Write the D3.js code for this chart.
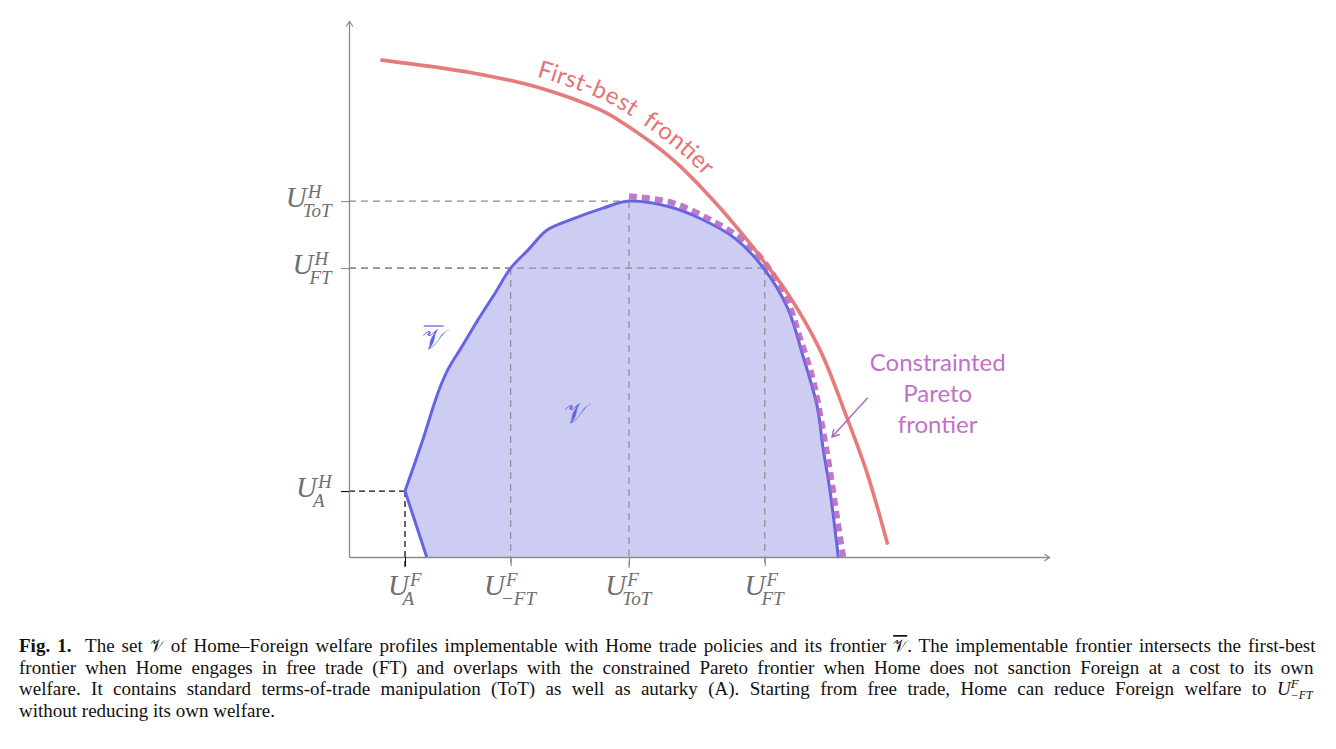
<!DOCTYPE html>
<html>
<head>
<meta charset="utf-8">
<script src="https://cdn.jsdelivr.net/npm/d3@7"></script>
<style>
  body { margin: 0; background: #fff; }
  svg { display: block; }
</style>
</head>
<body>
<svg id="chart" width="1336" height="749"></svg>
<script>
// Foreign welfare on x, Home welfare on y (arbitrary units, 0..10)
var xTickNames = ["A", "\u2212FT", "ToT", "FT"];
var xTickValues = [0.80, 2.31, 4.00, 5.94];
var yTickNames = ["ToT", "FT", "A"];
var yTickValues = [6.64, 5.39, 1.23];
// [x tick name, y tick name] : dashed guide from both axes to the point
var guidePairs = [["ToT", "ToT"], ["FT", "FT"], ["\u2212FT", "FT"], ["A", "A"]];

var firstBest = [[0.47, 9.27], [1.77, 9.03], [2.73, 8.75], [3.59, 8.34], [3.91, 8.10],
  [4.63, 7.41], [5.20, 6.66], [5.69, 5.91], [5.91, 5.54], [6.26, 4.93], [6.73, 3.86],
  [7.11, 2.61], [7.40, 1.57], [7.69, 0.26]];

// frontier of the implementable set, from the x axis through autarky and round
var implementable = [[1.11, 0], [0.80, 1.23], [1.04, 2.13], [1.27, 3.06], [1.41, 3.49],
  [1.61, 3.92], [1.84, 4.42], [2.09, 4.93], [2.31, 5.39], [2.56, 5.73], [2.83, 6.10],
  [3.16, 6.29], [3.63, 6.51], [4.00, 6.64], [4.59, 6.53], [5.01, 6.32], [5.51, 5.95],
  [5.91, 5.41], [6.26, 4.66], [6.49, 3.73], [6.69, 2.80], [6.77, 2.05], [6.87, 1.25],
  [6.99, 0]];

var constrained = [[4.00, 6.73], [4.59, 6.62], [5.09, 6.34], [5.59, 5.95], [5.91, 5.54],
  [6.26, 4.79], [6.44, 4.10], [6.63, 3.30], [6.77, 2.37], [6.87, 1.62], [6.97, 0.75],
  [7.06, 0]];

var captionLines = [
  [["b", "Fig. 1."], ["", "\u00a0 The set "], ["v", "\ud835\udcb1"],
   ["", " of Home\u2013Foreign welfare profiles implementable with Home trade policies and its frontier "],
   ["vbar", "\ud835\udcb1"], ["", ". The implementable frontier intersects the first-best"]],
  [["", "frontier when Home engages in free trade (FT) and overlaps with the constrained Pareto frontier when Home does not sanction Foreign at a cost to its own"]],
  [["", "welfare. It contains standard terms-of-trade manipulation (ToT) as well as autarky (A). Starting from free trade, Home can reduce Foreign welfare to "],
   ["U", "U"], ["sup", "F"], ["sub", "\u2212FT"]],
  [["", "without reducing its own welfare."]]
];

var svg = d3.select("#chart");
var x = d3.scaleLinear().domain([0, 10]).range([349, 1049]);
var y = d3.scaleLinear().domain([0, 10]).range([557, 21]);

var red = "#e57474", blue = "#6565e2", fill = "#cdcdf3", purple = "#b262c4",
  grey = "#8a8a8a", labelGrey = "#6f6f6f";
var serif = "'Liberation Serif', 'DejaVu Serif', serif";
var sans = "Lato, 'Open Sans', sans-serif";

var defs = svg.append("defs");
defs.append("marker")
  .attr("id", "axisArrow").attr("viewBox", "-6 -5 8 10")
  .attr("markerWidth", 8).attr("markerHeight", 10).attr("markerUnits", "userSpaceOnUse")
  .attr("orient", "auto")
  .append("path").attr("d", "M-5,-3.5 L0,0 L-5,3.5")
  .attr("fill", "none").attr("stroke", grey).attr("stroke-width", 1.2);
defs.append("marker")
  .attr("id", "noteArrow").attr("viewBox", "-8 -5 10 10")
  .attr("markerWidth", 10).attr("markerHeight", 10).attr("markerUnits", "userSpaceOnUse")
  .attr("orient", "auto")
  .append("path").attr("d", "M-7,-4 L0,0 L-7,4")
  .attr("fill", "none").attr("stroke", purple).attr("stroke-width", 1.4);

var line = d3.line().x(function(d) { return x(d[0]); }).y(function(d) { return y(d[1]); })
  .curve(d3.curveCatmullRom.alpha(0.5));

// implementable set: straight piece below autarky, smooth frontier above
var p0 = implementable[0];
var vPath = "M" + x(p0[0]) + "," + y(p0[1]) + "L" + line(implementable.slice(1)).slice(1);

svg.append("path").attr("d", vPath + "Z").attr("fill", fill);

// guides
var xByName = {}, yByName = {};
xTickNames.forEach(function(n, i) { xByName[n] = xTickValues[i]; });
yTickNames.forEach(function(n, i) { yByName[n] = yTickValues[i]; });

var guides = svg.append("g");
guidePairs.forEach(function(p) {
  var gx = xByName[p[0]], gy = yByName[p[1]];
  var black = p[0] == "A";
  var st = { stroke: black ? "#111" : grey, w: black ? 1.3 : 1.1, dash: black ? "6,4" : "7,5" };
  guides.append("line")
    .attr("x1", x(0)).attr("x2", x(gx)).attr("y1", y(gy)).attr("y2", y(gy))
    .attr("stroke", st.stroke).attr("stroke-width", st.w).attr("stroke-dasharray", st.dash);
  guides.append("line")
    .attr("x1", x(gx)).attr("x2", x(gx)).attr("y1", y(gy)).attr("y2", y(0) + 11)
    .attr("stroke", st.stroke).attr("stroke-width", st.w).attr("stroke-dasharray", st.dash);
});

// axes
var xAxis = svg.append("g").attr("transform", "translate(0," + y(0) + ")")
  .call(d3.axisBottom(x).tickValues(xTickValues).tickSize(9).tickSizeOuter(0).tickFormat(""));
var yAxis = svg.append("g").attr("transform", "translate(" + x(0) + ",0)")
  .call(d3.axisLeft(y).tickValues(yTickValues).tickSize(8).tickSizeOuter(0).tickFormat(""));
[xAxis, yAxis].forEach(function(a) {
  a.select(".domain").attr("stroke", grey).attr("stroke-width", 1.3).attr("marker-end", "url(#axisArrow)");
  a.selectAll(".tick line").attr("stroke", grey).attr("stroke-width", 1.1);
});
// autarky ticks are black like their guides
xAxis.selectAll(".tick line").filter(function(d) { return d == xByName["A"]; }).attr("stroke", "#111");
yAxis.selectAll(".tick line").filter(function(d) { return d == yByName["A"]; }).attr("stroke", "#111");

// curves
svg.append("path").attr("d", vPath).attr("fill", "none")
  .attr("stroke", blue).attr("stroke-width", 3).attr("stroke-linejoin", "round");
svg.append("path").attr("d", line(constrained)).attr("fill", "none")
  .attr("stroke", purple).attr("stroke-width", 6).attr("stroke-opacity", 0.85)
  .attr("stroke-dasharray", "8,5");
svg.append("path").attr("id", "firstBest").attr("d", line(firstBest)).attr("fill", "none")
  .attr("stroke", red).attr("stroke-width", 3.6).attr("stroke-linecap", "round")
  .attr("stroke-opacity", 0.95);

svg.append("text").attr("font-family", sans).attr("font-size", 24).attr("fill", red)
  .append("textPath").attr("href", "#firstBest").attr("startOffset", 154)
  .append("tspan").attr("dy", -10).style("white-space", "pre")
  .text("First-best\u00a0 frontier");

// math tick labels: U with stacked super/subscript, one text element each
function mathLabel(g, sup, sub, big, small) {
  var t = g.append("text").attr("font-family", serif).attr("font-style", "italic")
    .attr("fill", labelGrey);
  t.append("tspan").attr("font-size", big).text("U");
  var s1 = t.append("tspan").attr("font-size", small).attr("dx", 1).attr("dy", -9).text(sup);
  var w1 = s1.node().getComputedTextLength();
  t.append("tspan").attr("font-size", small).attr("dx", -(w1 + 5)).attr("dy", 19).text(sub);
  return t.node().getBBox();
}

xTickNames.forEach(function(n, i) {
  var g = svg.append("g");
  var bb = mathLabel(g, "F", n, 29, 19);
  g.attr("transform", "translate(" + (x(xTickValues[i]) - bb.x - bb.width / 2) + "," + (y(0) + 38) + ")");
});
yTickNames.forEach(function(n, i) {
  var g = svg.append("g");
  var bb = mathLabel(g, "H", n, 29, 19);
  g.attr("transform", "translate(" + (333 - bb.x - bb.width) + "," + (y(yTickValues[i]) + 6) + ")");
});

// set labels
svg.append("text").attr("x", x(1.21)).attr("y", y(3.88)).attr("text-anchor", "middle")
  .attr("font-family", "'DejaVu Serif', serif").attr("font-size", 28).attr("fill", blue)
  .text("\ud835\udcb1");
svg.append("line").attr("x1", x(1.21) - 10).attr("x2", x(1.21) + 10)
  .attr("y1", y(3.88) - 23).attr("y2", y(3.88) - 23)
  .attr("stroke", blue).attr("stroke-width", 1.3);
svg.append("text").attr("x", x(3.23)).attr("y", y(2.50)).attr("text-anchor", "middle")
  .attr("font-family", "'DejaVu Serif', serif").attr("font-size", 28).attr("fill", blue)
  .text("\ud835\udcb1");

var note = svg.append("text").attr("font-family", sans).attr("font-size", 24)
  .attr("fill", "#c271c9").attr("text-anchor", "middle");
["Constrainted", "Pareto", "frontier"].forEach(function(t, i) {
  note.append("tspan").attr("x", x(8.41)).attr("y", y(3.47) + i * 31).text(t);
});
svg.append("line").attr("x1", x(7.41)).attr("y1", y(2.97)).attr("x2", x(6.90)).attr("y2", y(2.24))
  .attr("stroke", purple).attr("stroke-width", 1.4).attr("marker-end", "url(#noteArrow)");

// caption, justified like the journal page
var capLeft = 19, capRight = 1314, capTop = 652, capStep = 21.5;
captionLines.forEach(function(parts, li) {
  var t = svg.append("text").attr("x", capLeft).attr("y", capTop + li * capStep)
    .attr("font-family", serif).attr("font-size", 19).attr("fill", "#111")
    .style("white-space", "pre");
  parts.forEach(function(p) {
    var s = t.append("tspan").text(p[1]);
    if (p[0] == "b") s.attr("font-weight", "bold");
    if (p[0] == "v" || p[0] == "vbar") s.attr("font-family", "'DejaVu Serif', serif").attr("font-size", 17);
    if (p[0] == "vbar") s.style("text-decoration", "overline");
    if (p[0] == "U") s.attr("font-style", "italic");
    if (p[0] == "sup") s.attr("font-style", "italic").attr("font-size", 13).attr("dy", -7);
    if (p[0] == "sub") s.attr("font-style", "italic").attr("font-size", 12).attr("dx", -8).attr("dy", 11);
  });
  if (li < captionLines.length - 1) {
    var w = t.node().getBBox().width;
    var spaces = parts.map(function(p) { return (p[1].match(/ /g) || []).length; })
      .reduce(function(a, b) { return a + b; }, 0);
    t.attr("word-spacing", (capRight - capLeft - w) / spaces);
  }
});
</script>
</body>
</html>
